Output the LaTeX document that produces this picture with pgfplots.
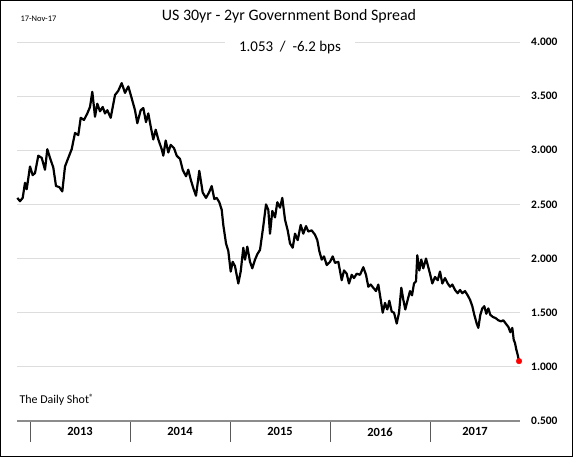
\documentclass[border=0pt]{standalone}
\usepackage{pgfplots}
\pgfplotsset{compat=1.18}
\usepackage{pgfplotstable}
\usepackage{fontspec}
\setmainfont{Carlito}
\definecolor{gridc}{HTML}{DDDDDD}
\definecolor{axc}{HTML}{8C8C8C}
\definecolor{tickc}{HTML}{595959}

\pgfplotstableread{
x v
2012.873 2.56
2012.900 2.53
2012.927 2.56
2012.950 2.70
2012.967 2.64
2013.000 2.85
2013.027 2.77
2013.050 2.79
2013.083 2.95
2013.117 2.93
2013.150 2.82
2013.173 3.01
2013.200 2.93
2013.233 2.84
2013.260 2.67
2013.293 2.66
2013.323 2.62
2013.350 2.85
2013.383 2.93
2013.417 3.01
2013.450 3.16
2013.483 3.14
2013.507 3.30
2013.540 3.28
2013.573 3.34
2013.600 3.40
2013.623 3.54
2013.650 3.31
2013.673 3.43
2013.700 3.36
2013.727 3.40
2013.750 3.34
2013.773 3.37
2013.807 3.30
2013.850 3.51
2013.883 3.55
2013.917 3.62
2013.950 3.53
2013.983 3.59
2014.017 3.48
2014.050 3.37
2014.073 3.25
2014.107 3.37
2014.133 3.39
2014.160 3.26
2014.183 3.34
2014.207 3.22
2014.233 3.10
2014.257 3.19
2014.283 3.10
2014.317 3.01
2014.333 2.95
2014.357 3.09
2014.383 2.98
2014.407 3.05
2014.440 3.02
2014.467 2.95
2014.500 2.92
2014.527 2.82
2014.560 2.76
2014.583 2.82
2014.607 2.73
2014.633 2.65
2014.660 2.58
2014.693 2.81
2014.727 2.61
2014.760 2.56
2014.790 2.61
2014.817 2.67
2014.843 2.55
2014.867 2.56
2014.893 2.52
2014.917 2.45
2014.933 2.31
2014.960 2.14
2014.983 2.07
2015.007 1.88
2015.027 1.97
2015.050 1.93
2015.083 1.77
2015.107 1.88
2015.133 2.10
2015.150 1.99
2015.173 2.11
2015.200 1.97
2015.223 1.91
2015.250 1.99
2015.273 2.04
2015.300 2.08
2015.333 2.30
2015.360 2.50
2015.383 2.45
2015.400 2.23
2015.423 2.44
2015.450 2.38
2015.473 2.52
2015.500 2.47
2015.523 2.56
2015.550 2.36
2015.577 2.26
2015.600 2.14
2015.627 2.10
2015.650 2.23
2015.677 2.17
2015.707 2.31
2015.733 2.23
2015.760 2.30
2015.783 2.25
2015.817 2.26
2015.850 2.22
2015.873 2.17
2015.893 2.07
2015.917 1.99
2015.940 2.02
2015.967 1.94
2016.000 1.97
2016.027 2.02
2016.050 1.96
2016.083 1.97
2016.117 1.80
2016.140 1.89
2016.167 1.86
2016.190 1.77
2016.217 1.85
2016.240 1.82
2016.267 1.86
2016.300 1.85
2016.333 1.92
2016.360 1.85
2016.383 1.74
2016.407 1.76
2016.433 1.73
2016.460 1.70
2016.483 1.76
2016.507 1.62
2016.527 1.50
2016.550 1.59
2016.573 1.53
2016.593 1.61
2016.617 1.51
2016.640 1.50
2016.667 1.40
2016.690 1.50
2016.713 1.73
2016.733 1.62
2016.753 1.53
2016.777 1.62
2016.800 1.70
2016.820 1.66
2016.840 1.77
2016.860 1.79
2016.873 2.03
2016.893 1.89
2016.913 1.99
2016.933 1.91
2016.960 2.00
2017.000 1.86
2017.023 1.77
2017.050 1.83
2017.077 1.80
2017.100 1.88
2017.123 1.77
2017.150 1.82
2017.177 1.77
2017.200 1.74
2017.223 1.76
2017.250 1.71
2017.277 1.68
2017.300 1.71
2017.323 1.68
2017.350 1.70
2017.377 1.66
2017.400 1.62
2017.423 1.56
2017.443 1.48
2017.467 1.40
2017.483 1.36
2017.503 1.48
2017.523 1.54
2017.543 1.56
2017.563 1.49
2017.583 1.54
2017.603 1.48
2017.630 1.46
2017.657 1.45
2017.683 1.43
2017.710 1.42
2017.733 1.43
2017.757 1.40
2017.783 1.37
2017.803 1.32
2017.823 1.36
2017.837 1.25
2017.850 1.22
2017.863 1.16
2017.877 1.11
2017.890 1.053
}\spread

\begin{document}
\begin{tikzpicture}[x=1bp,y=1bp]
\useasboundingbox (0,0) rectangle (573,457);
\begin{axis}[
  at={(17bp,36bp)}, anchor=south west,
  width=503bp, height=379bp, scale only axis,
  xmin=2012.87, xmax=2017.90,
  ymin=0.5, ymax=4.0,
  axis x line*=bottom, axis y line*=right,
  x axis line style={draw=axc, line width=1.3bp, -},
  y axis line style={draw=none},
  ytick={0.5,1,1.5,2,2.5,3,3.5,4},
  yticklabels={0.500,1.000,1.500,2.000,2.500,3.000,3.500,4.000},
  ytick style={draw=none},
  yticklabel style={font=\bfseries\fontsize{11.5}{12}\selectfont, anchor=west, inner sep=0pt, xshift=11bp},
  ymajorgrids, grid style={draw=gridc, line width=0.9bp},
  xtick={2013,2014,2015,2016,2017},
  xticklabels={},
  xtick align=outside,
  major tick length=21bp,
  x tick style={draw=tickc, line width=0.9bp},
  extra x ticks={2013.5,2014.5,2015.5,2016.5,2017.45},
  extra x tick labels={2013,2014,2015,2016,2017},
  extra x tick style={major tick length=0pt, x tick style={draw=none}},
  xticklabel style={font=\bfseries\fontsize{12.5}{13}\selectfont, yshift=-3bp},
  clip=false,
]
\addplot[black, line width=2.2bp, line join=round] table[x=x, y=v] {\spread};
\addplot[only marks, mark=*, mark size=2.8bp, color=red] coordinates {(2017.890,1.053)};
\end{axis}
\node[anchor=west, font=\fontsize{8.5}{9}\selectfont] at (17,438) {17-Nov-17};
\node[font=\fontsize{16}{18}\selectfont] at (289,441) {US 30yr - 2yr Government Bond Spread};
\node[font=\fontsize{15}{17}\selectfont, fill=white, inner xsep=14bp] at (290,409) {1.053\ \ /\ \ -6.2 bps};
\node[anchor=west, font=\fontsize{12}{13}\selectfont] at (16,57) {The Daily Shot\raisebox{0.6ex}{\fontsize{9}{9}\selectfont ®}};
\draw[black, line width=1bp] (0.5,0.5) rectangle (572.5,456.5);
\end{tikzpicture}
\end{document}
